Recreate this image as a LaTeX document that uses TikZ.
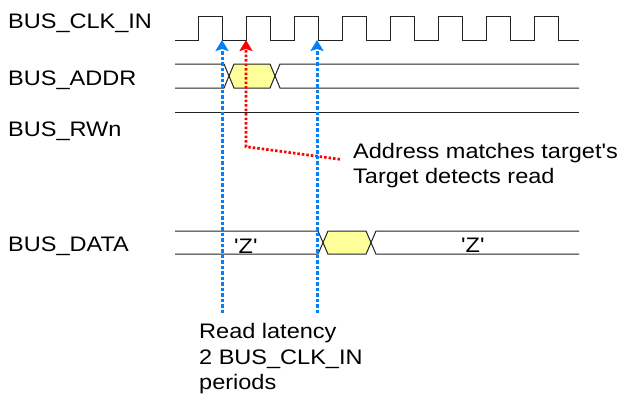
\documentclass[tikz,border=0pt]{standalone}
\usepackage{fontspec}
\newfontfamily\rawfont{Liberation Sans}[FakeStretch=1.12]
\usetikzlibrary{arrows.meta}
\definecolor{sigline}{RGB}{35,35,35}
\definecolor{arrblue}{RGB}{0,128,255}
\definecolor{arrred}{RGB}{255,0,0}
\definecolor{busfill}{RGB}{255,255,153}
\begin{document}
\begin{tikzpicture}[x=1pt,y=-1pt,
  sig/.style={draw=sigline,line width=1pt},
  lbl/.style={anchor=base west,inner sep=0pt,font=\rawfont\fontsize{21}{25}\selectfont},
  bluearrow/.style={draw=arrblue,line width=3pt,dash pattern=on 3.5pt off 2pt,
    -{Stealth[length=11pt,width=13pt,inset=2pt,fill=arrblue]}},
  redarrow/.style={draw=arrred,line width=2.7pt,dash pattern=on 2.5pt off 2pt,
    -{Stealth[length=11pt,width=13pt,inset=2pt,fill=arrred]}}]
\useasboundingbox (0,0) rectangle (621,399);

% signal names
\node[lbl] (nclk)  at (8,28)  {BUS\_CLK\_IN};
\node[lbl] (naddr) at (8,85)  {BUS\_ADDR};
\node[lbl] (nrwn)  at (8,136) {BUS\_RWn};
\node[lbl] (ndata) at (8,251) {BUS\_DATA};

% clock
\draw[sig] (175,40.5) foreach \i in {0,...,7}{
  -- ({198+48*\i},40.5) -- ({198+48*\i},16) -- ({222+48*\i},16) -- ({222+48*\i},40.5)}
  -- (579,40.5);

% address bus
\fill[busfill] (229,76) -- (234,64) -- (270,64) -- (275,76) -- (270,88) -- (234,88) -- cycle;
\draw[sig] (175,64) -- (224,64) -- (234,88) -- (270,88) -- (280,64) -- (579,64);
\draw[sig] (175,88) -- (224,88) -- (234,64) -- (270,64) -- (280,88) -- (579,88);

% read/write
\draw[sig] (175,112) -- (579,112);

% data bus
\fill[busfill] (323,242.6) -- (328,231) -- (366,231) -- (371,242.6) -- (366,254.2) -- (328,254.2) -- cycle;
\draw[sig] (175,231) -- (318,231) -- (328,254.2) -- (366,254.2) -- (376,231) -- (579,231);
\draw[sig] (175,254.2) -- (318,254.2) -- (328,231) -- (366,231) -- (376,254.2) -- (579,254.2);
\node[lbl] (z1) at (234,253) {'Z'};
\node[lbl] (z2) at (461,252) {'Z'};

% annotations
\coordinate (rtop) at (246,40);
\coordinate (rcorner) at (246,146.7);
\coordinate (rend) at (340,159.3);
\draw[redarrow] (rend) -- (rcorner) -- (rtop);

\coordinate (b1top) at (222,40);
\coordinate (b1bot) at (222,313);
\coordinate (b2top) at (317,40);
\coordinate (b2bot) at (317,313);
\draw[bluearrow] (b1bot) -- (b1top);
\draw[bluearrow] (b2bot) -- (b2top);

\node[lbl] (t1) at (353,158) {Address matches target's};
\node[lbl] (t2) at (353,183) {Target detects read};
\node[lbl] (l1) at (199,338) {Read latency};
\node[lbl] (l2) at (199,364) {2 BUS\_CLK\_IN};
\node[lbl] (l3) at (199,389) {periods};
\end{tikzpicture}
\end{document}
